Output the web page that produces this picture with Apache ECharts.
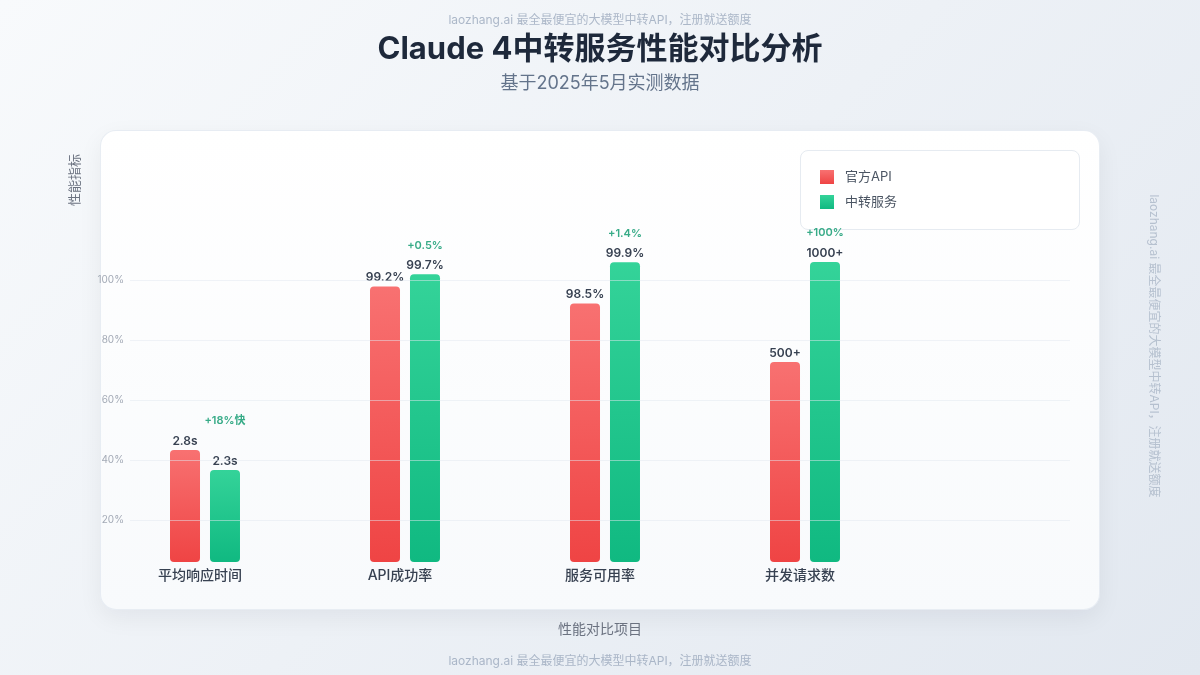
<!DOCTYPE html>
<html>
<head>
<meta charset="utf-8">
<script src="https://cdn.jsdelivr.net/npm/echarts@6/dist/echarts.min.js"></script>
<style>
  html, body { margin: 0; padding: 0; width: 1200px; height: 675px; overflow: hidden; }
  body { background: linear-gradient(135deg, #f8fafc 0%, #e2e8f0 100%); position: relative; }
  #card { position: absolute; left: 100px; top: 130px; width: 998px; height: 478px; border-radius: 16px;
          background: linear-gradient(180deg, #ffffff 0%, #f8fafc 100%); border: 1px solid rgba(226,232,240,0.8);
          box-shadow: 0 8px 24px rgba(15,23,42,0.06); }
  #legendBox { position: absolute; left: 800px; top: 150px; width: 278px; height: 78px; border-radius: 8px;
          background: #ffffff; border: 1px solid #e6ebf1; }
  #chart { position: absolute; left: 0; top: 0; width: 1200px; height: 675px; }
</style>
</head>
<body>
<div id="card"></div>
<div id="legendBox"></div>
<div id="chart"></div>
<script>
const categories = ['平均响应时间', 'API成功率', '服务可用率', '并发请求数'];
const seriesNames = ['官方API', '中转服务'];
// plotted bar heights (bar scale 0..100)
const officialHeights = [37.3, 91.8, 86.2, 66.7];
const relayHeights = [30.7, 95.9, 99.9, 100];
// displayed value labels
const officialLabels = ['2.8s', '99.2%', '98.5%', '500+'];
const relayLabels = ['2.3s', '99.7%', '99.9%', '1000+'];
const improvementLabels = ['+18%快', '+0.5%', '+1.4%', '+100%'];
// y tick labels
const yTicks = [20, 40, 60, 80, 100];

const FONT = 'Inter, "Noto Sans CJK SC", "Noto Sans", sans-serif';
const watermark = 'laozhang.ai 最全最便宜的大模型中转API，注册就送额度';

const chart = echarts.init(document.getElementById('chart'), null, { renderer: 'canvas' });

function grad(top, bottom) {
  return new echarts.graphic.LinearGradient(0, 0, 0, 1, [
    { offset: 0, color: top }, { offset: 1, color: bottom }
  ]);
}
function centerText(text, x, y, font, fill, rotation) {
  return { type: 'text', x: x, y: y, rotation: rotation || 0,
    style: { text: text, font: font, fill: fill, align: 'center', verticalAlign: 'middle' } };
}

const option = {
  backgroundColor: 'transparent',
  textStyle: { fontFamily: FONT },
  animation: false,
  graphic: [
    centerText(watermark, 600, 20, '12px ' + FONT, 'rgba(148,163,184,0.75)'),
    centerText('Claude 4中转服务性能对比分析', 600, 50, 'bold 31px ' + FONT, '#1e293b'),
    centerText('基于2025年5月实测数据', 600, 84, '18px ' + FONT, '#64748b'),
    centerText(watermark, 600, 661, '12px ' + FONT, 'rgba(148,163,184,0.75)'),
    centerText(watermark, 1154, 346, '12px ' + FONT, 'rgba(148,163,184,0.6)', -Math.PI / 2),
    centerText('性能指标', 75, 180, '13px ' + FONT, '#6b7280', Math.PI / 2),
    centerText('性能对比项目', 600, 630, '14px ' + FONT, '#6b7280')
  ],
  legend: {
    data: seriesNames,
    orient: 'vertical',
    left: 820,
    top: 170,
    padding: 0,
    itemWidth: 14,
    itemHeight: 14,
    itemGap: 11,
    icon: 'rect',
    textStyle: { fontSize: 13, color: '#4b5563', fontFamily: FONT, padding: [0, 0, 0, 6] }
  },
  grid: [
    { left: 130, right: 130, top: 280, bottom: 95 },
    { left: 105, width: 800, top: 262, bottom: 113 }
  ],
  xAxis: [
    { gridIndex: 0, type: 'value', show: false, min: 0, max: 1 },
    {
      gridIndex: 1, type: 'category', data: categories,
      axisLine: { show: false }, axisTick: { show: false },
      axisLabel: { margin: 7, fontSize: 14, fontWeight: 500, color: '#374151', fontFamily: FONT, padding: [0, 10, 0, 0] }
    }
  ],
  yAxis: [
    {
      gridIndex: 0, type: 'value', min: 0, max: 100, interval: 20, z: 5,
      axisLine: { show: false }, axisTick: { show: false },
      axisLabel: {
        margin: 6, fontSize: 10, color: '#a3aab6', fontFamily: FONT,
        formatter: v => yTicks.indexOf(v) >= 0 ? v + '%' : ''
      },
      splitLine: { show: true, showMinLine: false, lineStyle: { color: 'rgba(226,232,240,0.5)', width: 1 } }
    },
    { gridIndex: 1, type: 'value', min: 0, max: 100, show: false, splitLine: { show: false } }
  ],
  series: [
    {
      name: seriesNames[0], type: 'bar', xAxisIndex: 1, yAxisIndex: 1,
      data: officialHeights, barWidth: 30, barGap: '33.3%',
      itemStyle: { color: grad('#f87171', '#ef4444'), borderRadius: 4 },
      label: {
        show: true, position: 'top', distance: 3, fontSize: 12, fontWeight: 600, color: '#374151', fontFamily: FONT,
        formatter: p => officialLabels[p.dataIndex]
      }
    },
    {
      name: seriesNames[1], type: 'bar', xAxisIndex: 1, yAxisIndex: 1,
      data: relayHeights, barWidth: 30, barGap: '33.3%',
      itemStyle: { color: grad('#34d399', '#10b981'), borderRadius: 4 },
      label: {
        show: true, position: 'top', distance: 3, fontSize: 12, fontWeight: 600, color: '#374151', fontFamily: FONT,
        formatter: p => relayLabels[p.dataIndex]
      }
    },
    {
      name: 'improvement', type: 'scatter', xAxisIndex: 1, yAxisIndex: 1, clip: false,
      data: categories.map((c, i) => Math.max(officialHeights[i], relayHeights[i])),
      symbolSize: 1, itemStyle: { color: 'rgba(0,0,0,0)' }, silent: true, z: 6,
      label: {
        show: true, position: 'inside', offset: [20, -29], fontSize: 11, fontWeight: 600, color: '#059669', fontFamily: FONT,
        formatter: p => improvementLabels[p.dataIndex]
      }
    }
  ]
};
chart.setOption(option);
</script>
</body>
</html>
